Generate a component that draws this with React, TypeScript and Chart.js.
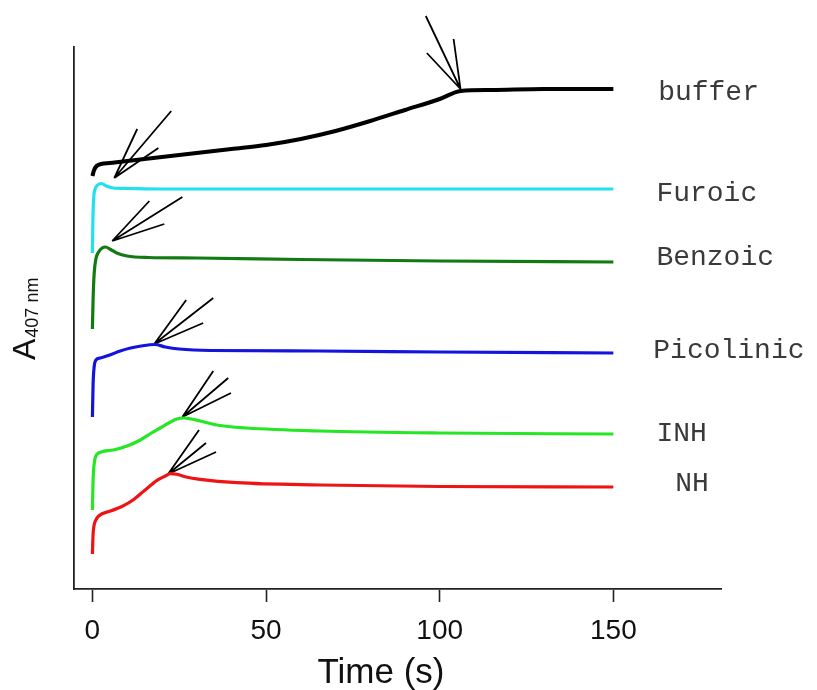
import React, { useEffect, useRef } from "react";
import { Chart, registerables } from "chart.js";

Chart.register(...registerables);

// ---- data (time in s, absorbance in arbitrary units, traces offset for display) ----
const bufferT = [0, 0.5, 1.2, 2.5, 5, 10, 20, 30, 40, 50, 60, 70, 80, 90, 100, 106, 115, 130, 150];
const bufferA = [0.413, 0.419, 0.423, 0.425, 0.426, 0.428, 0.432, 0.436, 0.44, 0.444, 0.45, 0.458, 0.468, 0.479, 0.49, 0.498, 0.499, 0.5, 0.5];

const furoicT = [0, 0.15, 0.4, 0.8, 1.5, 2.6, 4, 6, 10, 20, 50, 100, 150];
const furoicA = [0.336, 0.37, 0.392, 0.4, 0.404, 0.4055, 0.403, 0.401, 0.4005, 0.4, 0.4, 0.4, 0.4];

const benzoicT = [0, 0.2, 0.5, 1, 1.8, 2.8, 3.8, 5, 7, 10, 16, 30, 60, 100, 150];
const benzoicA = [0.26, 0.29, 0.315, 0.33, 0.337, 0.341, 0.342, 0.34, 0.336, 0.333, 0.3315, 0.331, 0.3295, 0.328, 0.327];

const picolinicT = [0, 0.2, 0.5, 1, 2.3, 5, 8, 11, 14, 18, 21, 25, 34, 65, 100, 150];
const picolinicA = [0.172, 0.205, 0.222, 0.229, 0.231, 0.234, 0.238, 0.241, 0.243, 0.2445, 0.242, 0.24, 0.2385, 0.238, 0.237, 0.236];

const inhT = [0, 0.2, 0.5, 1, 1.8, 6, 10, 13.8, 17, 19.5, 22, 24.3, 26.2, 28.5, 31, 35.8, 44.5, 65.5, 100, 150];
const inhA = [0.079, 0.11, 0.125, 0.133, 0.136, 0.139, 0.143, 0.149, 0.156, 0.161, 0.166, 0.17, 0.171, 0.17, 0.168, 0.164, 0.161, 0.158, 0.156, 0.155];

const nhT = [0, 0.2, 0.5, 1, 1.8, 5.2, 8.5, 11.9, 15, 18.6, 21, 22.4, 24.3, 27, 31, 41.6, 65.5, 100, 150];
const nhA = [0.035, 0.055, 0.064, 0.069, 0.073, 0.078, 0.0825, 0.0895, 0.0985, 0.1087, 0.113, 0.1153, 0.1147, 0.112, 0.1097, 0.1063, 0.104, 0.1025, 0.102];

const seriesNames = ["buffer", "Furoic", "Benzoic", "Picolinic", "INH", "NH"];
const seriesColors = ["#000000", "#22e0ee", "#127a12", "#1414dc", "#26e626", "#ee1414"];

// label anchors (time, absorbance) for the series names at the right
const labelT = [162.9, 162.4, 162.4, 161.5, 162.4, 167.8];
const labelA = [0.496, 0.395, 0.331, 0.238, 0.155, 0.105];

// arrow markers: tip and three tail ends for each trace
const arrowTipT = [106.0, 6.3, 5.7, 17.8, 25.9, 21.8];
const arrowTipA = [0.5, 0.411, 0.348, 0.245, 0.172, 0.115];
const arrowEndT = [
  [96.0, 96.3, 104.0],
  [12.9, 22.7, 19.0],
  [16.4, 25.9, 20.7],
  [27.0, 34.8, 31.9],
  [34.8, 39.1, 39.9],
  [30.7, 32.7, 35.6],
];
const arrowEndA = [
  [0.573, 0.536, 0.55],
  [0.46, 0.478, 0.441],
  [0.388, 0.392, 0.365],
  [0.289, 0.291, 0.266],
  [0.218, 0.211, 0.196],
  [0.159, 0.146, 0.137],
];

const xTicks = [0, 50, 100, 150];

const seriesT = [bufferT, furoicT, benzoicT, picolinicT, inhT, nhT];
const seriesA = [bufferA, furoicA, benzoicA, picolinicA, inhA, nhA];

export default function App() {
  const ref = useRef<HTMLCanvasElement | null>(null);

  useEffect(() => {
    const canvas = ref.current;
    if (!canvas) return;

    const datasets: any[] = [];
    seriesNames.forEach((name, i) => {
      datasets.push({
        label: name,
        data: seriesT[i].map((t, j) => ({ x: t, y: seriesA[i][j] })),
        borderColor: seriesColors[i],
        borderWidth: i === 0 ? 4 : 3.2,
        pointRadius: 0,
        fill: false,
        cubicInterpolationMode: "monotone",
      });
    });
    arrowTipT.forEach((tt, i) => {
      const pts: any[] = [];
      arrowEndT[i].forEach((et, k) => {
        pts.push({ x: tt, y: arrowTipA[i] });
        pts.push({ x: et, y: arrowEndA[i][k] });
        pts.push({ x: et, y: null });
      });
      datasets.push({
        label: "arrow" + i,
        data: pts,
        borderColor: "#000000",
        borderWidth: 1.8,
        pointRadius: 0,
        fill: false,
        spanGaps: false,
        tension: 0,
        clip: false,
      });
    });

    const textPlugin = {
      id: "texts",
      afterDraw(chart: any) {
        const ctx = chart.ctx;
        const xs = chart.scales.x;
        const ys = chart.scales.y;
        ctx.save();
        // series labels
        ctx.fillStyle = "#3a3a3a";
        ctx.font = '28px "Liberation Mono", "Courier New", monospace';
        ctx.textAlign = "left";
        ctx.textBaseline = "middle";
        seriesNames.forEach((n, i) => {
          ctx.fillText(n, xs.getPixelForValue(labelT[i]), ys.getPixelForValue(labelA[i]));
        });
        // x title
        ctx.fillStyle = "#111";
        ctx.textAlign = "center";
        ctx.textBaseline = "alphabetic";
        ctx.font = '35px "Liberation Sans", Arial, sans-serif';
        ctx.fillText("Time (s)", 381, 683);
        // y title with subscript
        ctx.translate(35, 360);
        ctx.rotate(-Math.PI / 2);
        ctx.textAlign = "left";
        ctx.font = '32px "Liberation Sans", Arial, sans-serif';
        ctx.fillText("A", 0, 0);
        const w = ctx.measureText("A").width;
        ctx.font = '18px "Liberation Sans", Arial, sans-serif';
        ctx.fillText("407 nm", w + 1, 3);
        ctx.restore();
      },
    };

    const chart = new Chart(canvas, {
      type: "line",
      data: { datasets },
      options: {
        animation: false,
        responsive: false,
        devicePixelRatio: 1,
        layout: { padding: { left: 0, top: 47, right: 96, bottom: 0 } },
        plugins: { legend: { display: false }, tooltip: { enabled: false } },
        scales: {
          x: {
            type: "linear",
            min: -5.3,
            max: 181,
            afterBuildTicks: (s: any) => {
              s.ticks = xTicks.map((v) => ({ value: v }));
            },
            afterFit: (s: any) => {
              s.height = 101;
            },
            grid: {
              display: true,
              drawOnChartArea: false,
              drawTicks: true,
              tickLength: 13,
              tickWidth: 1.6,
              tickColor: "#222",
            },
            border: { display: true, color: "#222", width: 1.8 },
            ticks: {
              color: "#111",
              font: { family: '"Liberation Sans", Arial, sans-serif', size: 28 },
              padding: 12,
              maxRotation: 0,
              autoSkip: false,
            },
          },
          y: {
            type: "linear",
            min: 0,
            max: 0.542,
            afterFit: (s: any) => {
              s.width = 74;
            },
            grid: { display: true, drawOnChartArea: false, drawTicks: false },
            border: { display: true, color: "#222", width: 1.8 },
            ticks: { display: false },
          },
        },
      },
      plugins: [textPlugin],
    });
    return () => chart.destroy();
  }, []);

  return (
    <div style={{ position: "fixed", left: 0, top: 0, width: 817, height: 690, background: "#fff" }}>
      <canvas ref={ref} width={817} height={690} style={{ display: "block" }} />
    </div>
  );
}
